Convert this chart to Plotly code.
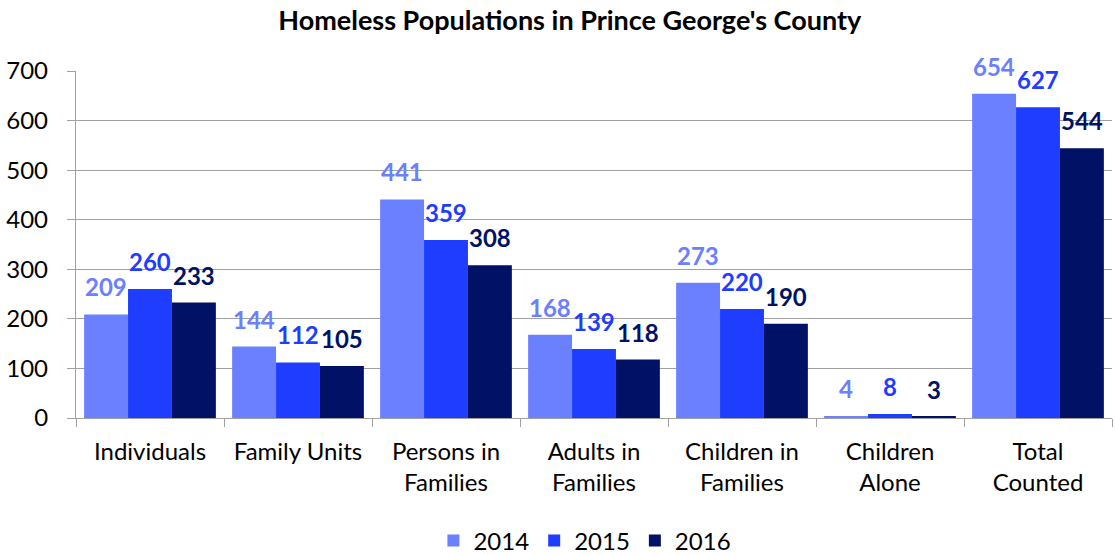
import plotly.graph_objects as go

categories = ["Individuals", "Family Units", "Persons in<br>Families", "Adults in<br>Families",
              "Children in<br>Families", "Children<br>Alone", "Total<br>Counted"]
years = ["2014", "2015", "2016"]
v2014 = [209, 144, 441, 168, 273, 4, 654]
v2015 = [260, 112, 359, 139, 220, 8, 627]
v2016 = [233, 105, 308, 118, 190, 3, 544]
colors = ["#6B80FF", "#1F3DFF", "#001166"]

FONT = "Lato, Carlito, Calibri, sans-serif"
W, H = 1115, 555
ML, MR, MT, MB = 76, 3, 71, 137
BARGAP = 0.11

fig = go.Figure()
series = [v2014, v2015, v2016]
for name, vals, c in zip(years, series, colors):
    fig.add_trace(go.Bar(
        x=categories, y=vals, name=name, marker=dict(color=c, line=dict(width=0)),
    ))

# data labels as annotations, shifted over each bar of the group
cat_w = (W - ML - MR) / len(categories)
bar_w = cat_w * (1 - BARGAP) / len(series)
for si, (vals, c) in enumerate(zip(series, colors)):
    dx = (si - (len(series) - 1) / 2) * bar_w
    for cat, v in zip(categories, vals):
        fig.add_annotation(x=cat, y=v, text=f"<b>{v}</b>", showarrow=False,
                           xanchor="center", yanchor="bottom", xshift=dx, yshift=11,
                           font=dict(family=FONT, size=24, color=c))

fig.update_layout(
    width=W, height=H,
    margin=dict(l=ML, r=MR, t=MT, b=MB, autoexpand=False),
    paper_bgcolor="white", plot_bgcolor="white",
    barmode="group", bargap=BARGAP, bargroupgap=0,
    title=dict(text="<b>Homeless Populations in Prince George's County</b>",
               x=0.511, xanchor="center", y=0.963, yanchor="middle",
               font=dict(family=FONT, size=27, color="black")),
    font=dict(family=FONT, size=24, color="black"),
    legend=dict(orientation="h", x=0.345, xanchor="left", y=-0.354, yanchor="middle",
                font=dict(family=FONT, size=24), traceorder="normal",
                itemwidth=30),
    showlegend=True,
)
fig.update_yaxes(range=[0, 700], dtick=100, showgrid=True, gridcolor="#A0A0A0", gridwidth=1.3,
                 showline=True, linecolor="#A0A0A0", linewidth=1.3, automargin=False,
                 ticks="outside", ticklen=8, tickcolor="#A0A0A0", ticklabelstandoff=14,
                 tickfont=dict(family=FONT, size=24), zeroline=False)
fig.update_xaxes(showline=True, linecolor="#A0A0A0", linewidth=1.3, automargin=False,
                 ticks="outside", tickson="boundaries", ticklen=8, tickcolor="#A0A0A0",
                 ticklabelstandoff=12,
                 tickfont=dict(family=FONT, size=24), showgrid=False)

fig.write_html("out.html")
